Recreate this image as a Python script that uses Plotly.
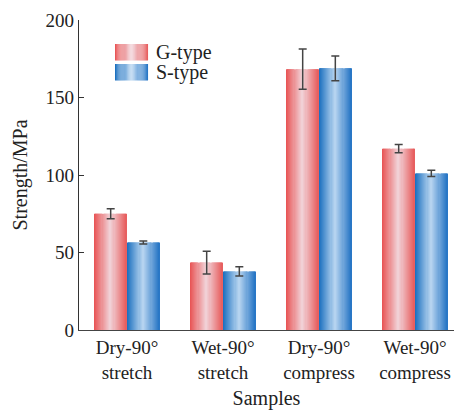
import plotly.graph_objects as go

categories = ["Dry-90°<br>stretch", "Wet-90°<br>stretch", "Dry-90°<br>compress", "Wet-90°<br>compress"]
g_values = [75.0, 43.5, 168.3, 117.0]
g_errors = [3.2, 7.3, 13.0, 2.7]
s_values = [56.5, 37.8, 168.8, 101.0]
s_errors = [1.0, 3.0, 8.0, 2.0]
series_names = ["G-type", "S-type"]
y_ticks = [0, 50, 100, 150, 200]

red_stops = [(232, 82, 82), (241, 212, 218), (231, 92, 92)]
blue_stops = [(24, 110, 190), (186, 214, 241), (36, 116, 196)]

N = 30
BW = 0.34
FONT = "Liberation Serif"


def grad(stops, t):
    if t <= 0.5:
        a, b, u = stops[0], stops[1], t / 0.5
    else:
        a, b, u = stops[1], stops[2], (t - 0.5) / 0.5
    return "rgb(%d,%d,%d)" % tuple(round(a[k] + (b[k] - a[k]) * u) for k in range(3))


fig = go.Figure()
for vals, errs, stops, off in [(g_values, g_errors, red_stops, -BW), (s_values, s_errors, blue_stops, 0.0)]:
    for i in range(N):
        t = (i + 0.5) / N
        fig.add_trace(go.Bar(
            x=categories, y=vals, width=BW / N * 1.02, offset=off + BW * i / N,
            marker=dict(color=grad(stops, t), line=dict(width=0)),
            showlegend=False, hoverinfo="skip"))
    fig.add_trace(go.Bar(
        x=categories, y=vals, width=BW, offset=off,
        marker=dict(color="rgba(0,0,0,0)", line=dict(width=0)),
        error_y=dict(type="data", array=errs, visible=True, color="#444444", thickness=1.5, width=4),
        showlegend=False))

# manual legend with gradient swatches
L, T, W, H = 79, 20, 375, 310
def px(x):
    return (x - L) / W
def py(y):
    return 1 - (y - T) / H

shapes = []
for (name, stops, y0) in [(series_names[0], red_stops, 44), (series_names[1], blue_stops, 64)]:
    x0, x1 = 115, 148
    for i in range(N):
        t = (i + 0.5) / N
        shapes.append(dict(type="rect", xref="paper", yref="paper",
                           x0=px(x0 + (x1 - x0) * i / N), x1=px(x0 + (x1 - x0) * (i + 1.05) / N),
                           y0=py(y0 + 16.5), y1=py(y0), fillcolor=grad(stops, t), line=dict(width=0), layer="above"))
annotations = [
    dict(text=series_names[0], xref="paper", yref="paper", x=px(154), y=py(52), xanchor="left", yanchor="middle",
         showarrow=False, font=dict(size=20, color="#222")),
    dict(text=series_names[1], xref="paper", yref="paper", x=px(154), y=py(72), xanchor="left", yanchor="middle",
         showarrow=False, font=dict(size=20, color="#222")),
]

fig.update_layout(
    width=454, height=410,
    margin=dict(l=79, r=0, t=20, b=80),
    barmode="overlay",
    plot_bgcolor="white", paper_bgcolor="white",
    font=dict(family=FONT, size=19, color="#222"),
    shapes=shapes, annotations=annotations,
    showlegend=False,
)
fig.update_xaxes(range=[-0.5, -0.5 + 375 / 96], showline=True, linecolor="#444", linewidth=1.2,
                 ticks="", showgrid=False, zeroline=False,
                 title=dict(text="Samples", font=dict(size=20), standoff=9),
                 tickfont=dict(size=19))
fig.update_yaxes(range=[0, 200], tickvals=y_ticks, showline=True, linecolor="#333", linewidth=1.2,
                 ticks="inside", ticklen=5, tickcolor="#333", showgrid=False, zeroline=False,
                 title=dict(text="Strength/MPa", font=dict(size=20), standoff=12),
                 tickfont=dict(size=19))

fig.write_html("out.html")
